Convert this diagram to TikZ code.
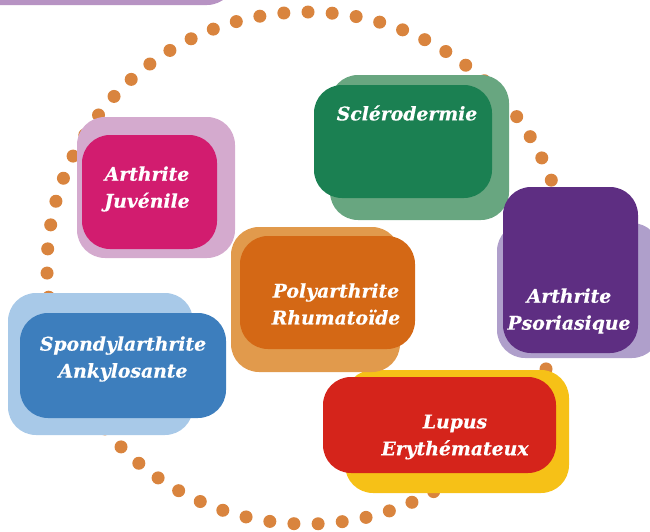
\documentclass[tikz,border=0pt]{standalone}
\usepackage{fontspec}
\setmainfont{DejaVu Serif}
\newfontfamily\tilefont{DejaVu Serif}[BoldItalicFeatures={FakeBold=0.4}]
\usepackage{tikz}

\definecolor{dotorange}{HTML}{D9843E}
\definecolor{topback}{HTML}{B793C3}
\definecolor{juvfront}{HTML}{D21C6F}
\definecolor{juvback}{HTML}{D4AACE}
\definecolor{sclfront}{HTML}{1B8052}
\definecolor{sclback}{HTML}{68A680}
\definecolor{psofront}{HTML}{5E2E82}
\definecolor{psoback}{HTML}{AF9FCB}
\definecolor{polyfront}{HTML}{D46815}
\definecolor{polyback}{HTML}{E19A4C}
\definecolor{spofront}{HTML}{3D7EBD}
\definecolor{spoback}{HTML}{A8C9E8}
\definecolor{lupfront}{HTML}{D5241B}
\definecolor{lupback}{HTML}{F6C117}

\tikzset{
  tile/.style={draw=none, rounded corners=21pt},
  label/.style={inner sep=0.75pt, align=center, text=white,
    font=\tilefont\fontsize{14.1}{20.2}\selectfont\bfseries\itshape}
}

\begin{document}
\begin{tikzpicture}[x=0.75pt,y=0.75pt,yscale=-1,xscale=1]
\useasboundingbox (0,0) rectangle (650,532);

%Shape: Dotted Ellipse
\draw [dotorange, line width=9.75pt, line cap=round, dash pattern=on 0pt off 18.15pt, dash phase=12.9pt] (307,268) ellipse (260 and 256);

%Shape: Rounded Rectangle (top)
\draw [tile, fill=topback] (-30,-120) rectangle (235,5);

%Shape: Rounded Rectangle (Arthrite Juvenile)
\draw [tile, fill=juvback] (77,117) rectangle (235,258);
\draw [tile, fill=juvfront] (82,135) rectangle (217,249);

%Shape: Rounded Rectangle (Sclerodermie)
\draw [tile, fill=sclback] (330,75) rectangle (509,220);
\draw [tile, fill=sclfront] (314,85) rectangle (492,198);

%Shape: Rounded Rectangle (Arthrite Psoriasique)
\draw [tile, fill=psoback] (497,223) rectangle (660,358);
\draw [tile, fill=psofront] (503,187) rectangle (638,353);

%Shape: Rounded Rectangle (Lupus)
\draw [tile, fill=lupback] (345,370) rectangle (569,493);
\draw [tile, fill=lupfront] (323,377) rectangle (556,473);

%Shape: Rounded Rectangle (Polyarthrite)
\draw [tile, fill=polyback] (231,227) rectangle (400,372);
\draw [tile, fill=polyfront] (240,236) rectangle (415,349);

%Shape: Rounded Rectangle (Spondylarthrite)
\draw [tile, fill=spoback] (8,293) rectangle (193,435);
\draw [tile, fill=spofront] (20,313) rectangle (226,418);

% Text Node
\node [label] (juvenile) at (147,189) {Arthrite\\Juvénile};
% Text Node
\node [label] (sclero) at (407,113) {Sclérodermie};
% Text Node
\node [label] (psoriasique) at (569,311) {Arthrite\\Psoriasique};
% Text Node
\node [label] (polyarthrite) at (336,304) {Polyarthrite\\Rhumatoïde};
% Text Node
\node [label] (spondyl) at (123,359) {Spondylarthrite\\Ankylosante};
% Text Node
\node [label] (lupus) at (455,437) {Lupus\\Erythémateux};

\end{tikzpicture}
\end{document}
